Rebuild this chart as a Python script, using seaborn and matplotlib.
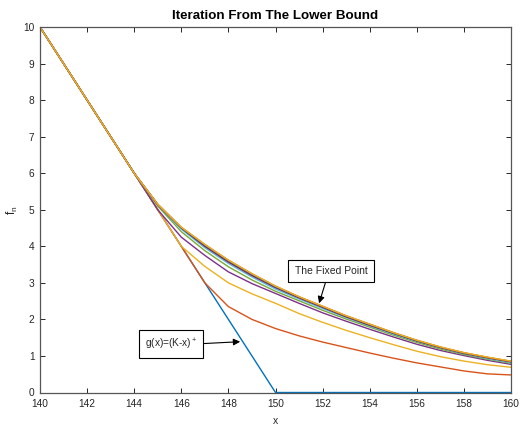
import matplotlib
matplotlib.use("Agg")
import matplotlib.pyplot as plt
import seaborn as sns
import pandas as pd

# ---- data ----
x_vals = [140, 141, 142, 143, 144, 145, 146, 147, 148, 149, 150,
          151, 152, 153, 154, 155, 156, 157, 158, 159, 160]
g_vals = [10, 9, 8, 7, 6, 5, 4, 3, 2, 1, 0, 0, 0, 0, 0, 0, 0, 0, 0, 0, 0]
iter1 = [10, 9, 8, 7, 6, 5, 4, 3, 2.35, 2.0, 1.75, 1.55, 1.38, 1.23, 1.08, 0.94, 0.81, 0.70, 0.59, 0.51, 0.48]
iter2 = [10, 9, 8, 7, 6, 5, 4.0, 3.45, 3.0, 2.7, 2.44, 2.16, 1.92, 1.70, 1.50, 1.31, 1.13, 0.98, 0.86, 0.76, 0.69]
iter3 = [10, 9, 8, 7, 6, 5.0, 4.25, 3.75, 3.30, 2.98, 2.71, 2.44, 2.18, 1.95, 1.73, 1.52, 1.32, 1.15, 1.01, 0.88, 0.77]
iter4 = [10, 9, 8, 7, 6, 5.10, 4.40, 3.88, 3.44, 3.08, 2.77, 2.51, 2.25, 2.01, 1.79, 1.57, 1.37, 1.19, 1.04, 0.91, 0.80]
iter5 = [10, 9, 8, 7, 6, 5.13, 4.47, 3.96, 3.53, 3.16, 2.83, 2.56, 2.30, 2.05, 1.82, 1.60, 1.40, 1.22, 1.06, 0.93, 0.82]
iter6 = [10, 9, 8, 7, 6, 5.14, 4.50, 4.00, 3.57, 3.20, 2.87, 2.59, 2.33, 2.07, 1.84, 1.62, 1.41, 1.23, 1.07, 0.95, 0.84]
iter7 = [10, 9, 8, 7, 6, 5.15, 4.51, 4.03, 3.60, 3.23, 2.89, 2.61, 2.35, 2.09, 1.86, 1.63, 1.42, 1.24, 1.08, 0.96, 0.85]
iter8 = [10, 9, 8, 7, 6, 5.15, 4.52, 4.05, 3.62, 3.25, 2.91, 2.62, 2.36, 2.10, 1.87, 1.64, 1.43, 1.24, 1.09, 0.96, 0.85]
iter9 = [10, 9, 8, 7, 6, 5.15, 4.52, 4.05, 3.62, 3.25, 2.91, 2.62, 2.36, 2.10, 1.87, 1.64, 1.43, 1.25, 1.09, 0.97, 0.86]

series_names = ["g", "f1", "f2", "f3", "f4", "f5", "f6", "f7", "f8", "f9"]
series_vals = [g_vals, iter1, iter2, iter3, iter4, iter5, iter6, iter7, iter8, iter9]

x_ticks = [140, 142, 144, 146, 148, 150, 152, 154, 156, 158, 160]
y_ticks = [0, 1, 2, 3, 4, 5, 6, 7, 8, 9, 10]

title_text = "Iteration From The Lower Bound"
fixed_label = "The Fixed Point"
g_label = "g(x)=(K-x)$^+$"

# MATLAB default colour order
mat_colors = [(0.0, 0.447, 0.741), (0.850, 0.325, 0.098), (0.929, 0.694, 0.125),
              (0.494, 0.184, 0.556), (0.466, 0.674, 0.188), (0.301, 0.745, 0.933),
              (0.635, 0.078, 0.184)]
palette = [mat_colors[i % 7] for i in range(len(series_names))]

rows = []
for name, vals in zip(series_names, series_vals):
    for xv, yv in zip(x_vals, vals):
        rows.append({"x": xv, "y": yv, "series": name})
df = pd.DataFrame(rows)

sns.set_style("ticks")
plt.rcParams["font.family"] = ["Liberation Sans", "DejaVu Sans"]
plt.rcParams["mathtext.fontset"] = "custom"
plt.rcParams["mathtext.rm"] = "Liberation Sans"

fig = plt.figure(figsize=(5.2, 4.29), dpi=100)
ax = fig.add_axes([40 / 520, 1 - 392.5 / 429, 471 / 520, (392.5 - 27) / 429])

sns.lineplot(data=df, x="x", y="y", hue="series", hue_order=series_names,
             palette=palette, linewidth=1.0, legend=False, ax=ax, sort=False)

ax.set_xlim(140, 160)
ax.set_ylim(0, 10)
ax.set_xticks(x_ticks)
ax.set_yticks(y_ticks)
axis_col = "#262626"
ax.tick_params(direction="in", length=3.5, width=0.7, labelsize=7.3,
               colors=axis_col, top=True, right=True)
ax.tick_params(axis="x", pad=5)
ax.tick_params(axis="y", pad=4)
for s in ax.spines.values():
    s.set_visible(True)
    s.set_color("#555555")
    s.set_linewidth(0.9)

ax.set_xlabel("x", fontsize=7.5, color=axis_col, labelpad=5)
ax.set_ylabel("f$_\\mathregular{n}$", fontsize=8.5, color=axis_col, labelpad=2)
ax.set_title(title_text, fontsize=9.6, fontweight="bold", color="black", pad=6)

box = dict(boxstyle="square,pad=0.6", fc="white", ec="black", lw=0.8)
arrow = dict(arrowstyle="-|>", color="black", lw=0.8, mutation_scale=10,
             shrinkA=0, shrinkB=0)
ax.annotate(fixed_label, xy=(151.85, 2.44), xytext=(152.36, 3.32),
            fontsize=7.5, ha="center", va="center", bbox=box,
            arrowprops=dict(arrow, relpos=(0.45, 0.0)))
ax.annotate(g_label, xy=(148.5, 1.39), xytext=(145.56, 1.33),
            fontsize=7.3, ha="center", va="center", bbox=box,
            arrowprops=dict(arrow, relpos=(1.0, 0.5)))

fig.savefig("out.png", dpi=100)
